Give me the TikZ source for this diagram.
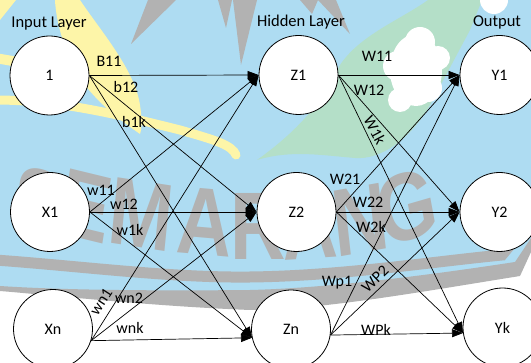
\documentclass[tikz,border=0pt]{standalone}
\usepackage{fontspec}
\setmainfont{Carlito}
\newfontfamily\wmfont{Liberation Sans}
\usetikzlibrary{arrows.meta}

\definecolor{wmblue}{RGB}{174,220,242}
\definecolor{wmgrey}{RGB}{178,178,178}
\definecolor{wmyellow}{RGB}{253,245,168}
\definecolor{wmgreen}{RGB}{180,223,200}

\begin{document}
\begin{tikzpicture}[x=1pt,y=-1pt,
  neuron/.style={circle,draw=black,line width=0.8pt,fill=white,minimum size=79pt,inner sep=0pt,font=\fontsize{16}{18}\selectfont},
  link/.style={draw=black,line width=0.7pt,-{Triangle[length=11pt,width=8pt]}},
  wlabel/.style={font=\fontsize{16}{18}\selectfont,inner sep=0pt},
  layer/.style={font=\fontsize{16.5}{18}\selectfont,inner sep=0pt},
  wmletter/.style={text=wmgrey,font=\wmfont\bfseries\fontsize{96}{96}\selectfont,inner sep=0pt,xscale=0.8}]

\useasboundingbox (0,0) rectangle (531,363);
\fill[white] (0,0) rectangle (531,363);

% ---- background emblem ----
% blue field
\fill[wmblue] (0,0) -- (531,0) -- (531,250) -- (518,275)
  .. controls (420,292) and (320,308) .. (250,308)
  .. controls (150,304) and (60,294) .. (0,289) -- cycle;
% lower shadow band
\fill[wmgrey] (0,286) .. controls (60,290) and (150,291) .. (250,290)
  .. controls (330,288) and (430,275) .. (515,262) -- (531,238) -- (531,252) -- (520,276)
  .. controls (420,292) and (320,310) .. (250,310)
  .. controls (150,306) and (60,296) .. (0,291) -- cycle;
% upper curved stripe
\draw[wmgrey,line width=11pt] (-5,260) .. controls (80,266) and (170,278) .. (250,277)
  .. controls (340,276) and (430,262) .. (502,255) -- (535,215);

% yellow leaves
\fill[wmyellow] (0,0) -- (16,0) -- (0,20) -- cycle;
\fill[wmyellow] (55,0) -- (80,0) .. controls (100,30) and (135,70) .. (140,105)
  .. controls (142,118) and (142,128) .. (140,134)
  .. controls (120,120) and (85,95) .. (70,60)
  .. controls (62,40) and (56,20) .. (55,0) -- cycle;
\draw[wmyellow,line width=9pt,line cap=round] (-5,100) .. controls (60,100) and (120,115) .. (180,130)
  .. controls (215,140) and (232,145) .. (236,155);
\draw[wmyellow,line width=10pt] (-5,58) -- (30,64);

% green land and white cloud
\fill[wmgreen] (257,160) .. controls (285,140) and (320,110) .. (340,65)
  .. controls (360,35) and (400,20) .. (428,0) -- (482,0) -- (470,30) -- (430,105)
  .. controls (410,140) and (380,160) .. (355,158)
  .. controls (320,155) and (290,150) .. (257,160) -- cycle;
\fill[white] (416,70) ellipse (26 and 36)
  (420,42) circle (15) (438,58) circle (12) (398,66) circle (15)
  (428,88) circle (14) (400,100) circle (12) (494,0) circle (14);

% grey feathers
\fill[wmgrey] (148,0) -- (176,0) -- (131,44) -- cycle;
\fill[wmgrey] (218,0) -- (232,0) -- (226,28) -- cycle;
\fill[wmgrey] (233,0) -- (257,0) -- (241,65) -- cycle;
\fill[wmgrey] (300,0) -- (318,0) -- (312,14) -- cycle;
\fill[wmgrey] (318,0) -- (336,0) -- (350,34) -- cycle;

% emblem lettering
\node[wmletter,rotate=-14] (lS) at (38,203) {S};
\node[wmletter,rotate=-11] (lE) at (86,206) {E};
\node[wmletter,rotate=-7]  (lM) at (141,215) {M};
\node[wmletter,rotate=-4]  (lA) at (205,222) {A};
\node[wmletter,rotate=0]   (lR) at (258,226) {R};
\node[wmletter,rotate=3]   (lA2) at (310,226) {A};
\node[wmletter,rotate=8]   (lN) at (360,220) {N};
\node[wmletter,rotate=13]  (lG) at (407,207) {G};

% ---- network ----
\node[layer] (hin)  at (49,24)  {Input Layer};
\node[layer] (hhid) at (301,22) {Hidden Layer};
\node[layer] (hout) at (497,22) {Output};

\node[neuron] (b)  at (49.5,75.5) {1};
\node[neuron] (x1) at (50,212)    {X1};
\node[neuron] (xn) at (53,329)    {Xn};
\node[neuron] (z1) at (298.5,75)  {Z1};
\node[neuron] (z2) at (296.5,212) {Z2};
\node[neuron] (zn) at (291,329.5) {Zn};
\node[neuron] (y1) at (499.5,75)  {Y1};
\node[neuron] (y2) at (499.5,212) {Y2};
\node[neuron] (yk) at (502.5,327.5) {Yk};

\foreach \s/\sa in {b/east, x1/east, xn/-17}
  \foreach \t/\ta in {z1/west, z2/west, zn/-168}
    \draw[link] (\s.\sa) -- (\t.\ta);
\foreach \s/\sa in {z1/east, z2/east, zn/-8}
  \foreach \t/\ta in {y1/west, y2/west, yk/-172}
    \draw[link] (\s.\sa) -- (\t.\ta);

% weight labels, input to hidden
\node[wlabel] (lb11) at (109,61)  {B11};
\node[wlabel] (lb12) at (126,87)  {b12};
\node[wlabel] (lb1k) at (134,122) {b1k};
\node[wlabel] (lw11) at (101,190) {w11};
\node[wlabel] (lw12) at (124,204) {w12};
\node[wlabel] (lw1k) at (130,230) {w1k};
\node[wlabel,rotate=57] (lwn1) at (101,302) {wn1};
\node[wlabel] (lwn2) at (129,298) {wn2};
\node[wlabel] (lwnk) at (130,328) {wnk};

% weight labels, hidden to output
\node[wlabel] (lW11) at (377,56)  {W11};
\node[wlabel] (lW12) at (369,90)  {W12};
\node[wlabel,rotate=-62] (lW1k) at (375,130) {W1k};
\node[wlabel] (lW21) at (345,179) {W21};
\node[wlabel] (lW22) at (368,202) {W22};
\node[wlabel] (lW2k) at (371,227) {W2k};
\node[wlabel] (lWp1) at (337,283) {Wp1};
\node[wlabel,rotate=44] (lWP2) at (375,279) {WP2};
\node[wlabel] (lWPk) at (376,330) {WPk};
\end{tikzpicture}
\end{document}
